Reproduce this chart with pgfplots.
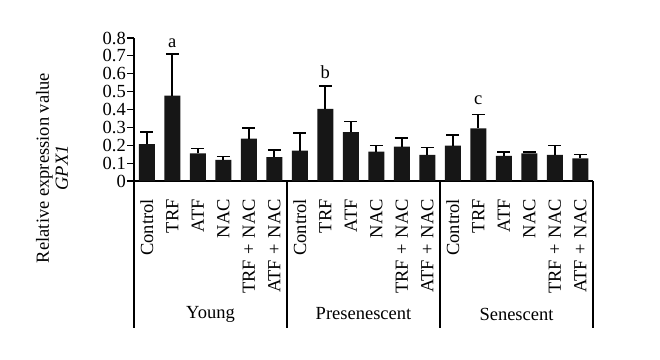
\documentclass[border=0pt]{standalone}
\usepackage{pgfplots}
\pgfplotsset{compat=1.18}
\usepackage{fontspec}
\setmainfont{Liberation Serif}
\definecolor{barblack}{HTML}{161616}
\newcommand{\figfont}{\fontsize{18.5bp}{19bp}\selectfont}
\newcommand{\pl}{\hspace{0.3em}+\hspace{0.3em}}
\begin{document}
\begin{tikzpicture}
\path[use as bounding box] (0,0) rectangle (660bp,360bp);
\begin{axis}[
  at={(134bp,179bp)}, anchor=south west,
  scale only axis, width=459bp, height=143bp,
  xmin=-0.5, xmax=17.5, ymin=0, ymax=0.8,
  axis x line*=bottom, axis y line*=left,
  axis line style={line width=1.1bp, black},
  xtick={0,...,17},
  xticklabels={Control,TRF,ATF,NAC,TRF\pl NAC,ATF\pl NAC,Control,TRF,ATF,NAC,TRF\pl NAC,ATF\pl NAC,Control,TRF,ATF,NAC,TRF\pl NAC,ATF\pl NAC},
  x tick style={draw=none},
  xticklabel style={rotate=90, anchor=east, xshift=-11bp, inner sep=0pt},
  ytick={0,0.1,...,0.8},
  y tick style={line width=1.1bp, black},
  major tick length=7bp,
  tick align=outside,
  yticklabel style={inner sep=1bp},
  /pgf/number format/assume math mode=true,
  tick label style={font=\figfont},
  clip=false,
]
\addplot[ybar, bar width=16bp, fill=barblack, draw=none,
  error bars/.cd, y dir=plus, y explicit,
  error bar style={line width=1.6bp, black},
  error mark options={rotate=90, mark size=6.5bp, line width=1.6bp, black}]
 coordinates {
  (0,0.206) +- (0,0.069)
  (1,0.478) +- (0,0.234)
  (2,0.155) +- (0,0.026)
  (3,0.118) +- (0,0.018)
  (4,0.237) +- (0,0.060)
  (5,0.133) +- (0,0.041)
  (6,0.170) +- (0,0.097)
  (7,0.404) +- (0,0.129)
  (8,0.273) +- (0,0.060)
  (9,0.164) +- (0,0.034)
  (10,0.193) +- (0,0.048)
  (11,0.146) +- (0,0.041)
  (12,0.198) +- (0,0.060)
  (13,0.295) +- (0,0.077)
  (14,0.140) +- (0,0.023)
  (15,0.155) +- (0,0.008)
  (16,0.146) +- (0,0.052)
  (17,0.127) +- (0,0.021)
 };
\node[font=\figfont] at (axis cs:1,0.772) {a};
\node[font=\figfont] at (axis cs:7,0.607) {b};
\node[font=\figfont] at (axis cs:13,0.453) {c};
\pgfplotsinvokeforeach{-0.5,5.5,11.5,17.5}{
  \draw[line width=1.1bp, black] (axis cs:#1,0) -- ([yshift=-147bp]axis cs:#1,0);
}
\node[font=\figfont] at ([yshift=-133bp]axis cs:2.5,0) {Young};
\node[font=\figfont] at ([yshift=-133bp]axis cs:8.5,0) {Presenescent};
\node[font=\figfont] at ([yshift=-133bp]axis cs:14.5,0) {Senescent};
\end{axis}
\node[rotate=90, align=center, font=\figfont] at (52bp,192bp) {Relative expression value\\[0bp]\textit{GPX1}};
\end{tikzpicture}
\end{document}
